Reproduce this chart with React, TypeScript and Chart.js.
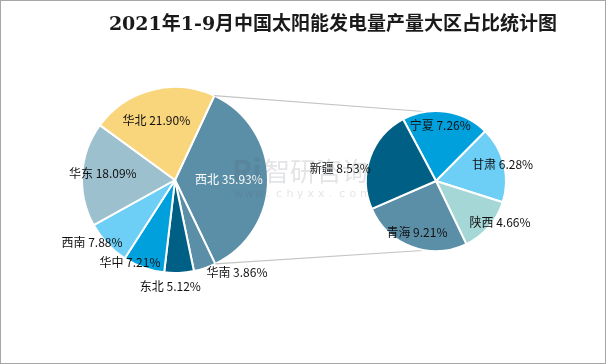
import React, { useEffect, useRef } from "react";
import { Chart, registerables } from "chart.js";

Chart.register(...registerables);

const titleText = "2021年1-9月中国太阳能发电量产量大区占比统计图";

const regionNames = ["西北", "华南", "东北", "华中", "西南", "华东", "华北"];
const regionValues = [35.93, 3.86, 5.12, 7.21, 7.88, 18.09, 21.9];
const regionColors = ["#5b8fa8", "#5b8fa8", "#005f85", "#00a0dc", "#6dcff6", "#9dc0cf", "#f9d57c"];
const regionLabelColors = ["#ffffff", "#111111", "#111111", "#111111", "#111111", "#111111", "#111111"];
// label placement: [radius factor, angle shift in degrees]
const regionLabelPlace = [[0.58, 0], [1.2, -15], [1.15, 5], [1.01, 9], [1.12, 6], [0.78, 2], [0.67, -3]];

const provinceNames = ["宁夏", "甘肃", "陕西", "青海", "新疆"];
const provinceValues = [7.26, 6.28, 4.66, 9.21, 8.53];
const provinceColors = ["#00a0dc", "#6dcff6", "#a5d7d6", "#5b8fa8", "#005f85"];
const provinceLabelPlace = [[0.8, -4], [0.98, 0], [1.09, -8], [0.78, 0], [1.38, -12]];

const W = 606;
const H = 364;

function drawLabels(chart: any, names: string[], values: number[], colors: string[], place: number[][]) {
  const ctx = chart.ctx;
  const meta = chart.getDatasetMeta(0);
  ctx.save();
  ctx.font = '12px "Noto Sans CJK SC", "Noto Sans", sans-serif';
  ctx.textAlign = "center";
  ctx.textBaseline = "middle";
  meta.data.forEach((arc: any, i: number) => {
    const p = arc.getProps(["x", "y", "startAngle", "endAngle", "outerRadius"], true);
    const mid = (p.startAngle + p.endAngle) / 2 + (place[i][1] * Math.PI) / 180;
    const r = p.outerRadius * place[i][0];
    const x = p.x + Math.cos(mid) * r;
    const y = p.y + Math.sin(mid) * r;
    ctx.fillStyle = colors[i];
    ctx.fillText(`${names[i]} ${values[i].toFixed(2)}%`, x, y);
  });
  ctx.restore();
}

export default function App() {
  const leftRef = useRef<HTMLCanvasElement>(null);
  const rightRef = useRef<HTMLCanvasElement>(null);

  useEffect(() => {
    const left = new Chart(leftRef.current as HTMLCanvasElement, {
      type: "pie",
      data: {
        labels: regionNames,
        datasets: [
          {
            data: regionValues,
            backgroundColor: regionColors,
            borderColor: "#ffffff",
            borderWidth: 2,
          },
        ],
      },
      options: {
        animation: false,
        responsive: false,
        devicePixelRatio: 1,
        rotation: 25,
        layout: { padding: { left: 81, right: 337, top: 86, bottom: 90 } },
        plugins: { legend: { display: false }, tooltip: { enabled: false } },
      },
      plugins: [
        {
          id: "bg",
          beforeDraw(chart: any) {
            const ctx = chart.ctx;
            ctx.save();
            ctx.fillStyle = "#ffffff";
            ctx.fillRect(0, 0, W, H);
            ctx.restore();
          },
          afterDraw(chart: any) {
            drawLabels(chart, regionNames, regionValues, regionLabelColors, regionLabelPlace);
          },
        },
      ],
    });

    const right = new Chart(rightRef.current as HTMLCanvasElement, {
      type: "pie",
      data: {
        labels: provinceNames,
        datasets: [
          {
            data: provinceValues,
            backgroundColor: provinceColors,
            borderColor: "#ffffff",
            borderWidth: 2,
          },
        ],
      },
      options: {
        animation: false,
        responsive: false,
        devicePixelRatio: 1,
        rotation: -28,
        layout: { padding: { left: 365, right: 99, top: 110, bottom: 112 } },
        plugins: { legend: { display: false }, tooltip: { enabled: false } },
      },
      plugins: [
        {
          id: "overlay",
          beforeDraw(chart: any) {
            const ctx = chart.ctx;
            // connector lines
            const lm = left.getDatasetMeta(0);
            const la = lm.data[0].getProps(["x", "y", "startAngle", "endAngle", "outerRadius"], true) as any;
            const rm = chart.getDatasetMeta(0);
            const ra = rm.data[0].getProps(["x", "y", "outerRadius"], true) as any;
            ctx.save();
            ctx.strokeStyle = "#c4c4c4";
            ctx.lineWidth = 1.2;
            ctx.beginPath();
            ctx.moveTo(la.x + Math.cos(la.startAngle) * la.outerRadius, la.y + Math.sin(la.startAngle) * la.outerRadius);
            ctx.lineTo(ra.x - 6, ra.y - ra.outerRadius + 1);
            ctx.moveTo(la.x + Math.cos(la.endAngle) * la.outerRadius, la.y + Math.sin(la.endAngle) * la.outerRadius);
            ctx.lineTo(ra.x - 6, ra.y + ra.outerRadius - 1);
            ctx.stroke();
            ctx.restore();
          },
          afterDraw(chart: any) {
            const ctx = chart.ctx;
            drawLabels(chart, provinceNames, provinceValues, provinceColors.map(() => "#111111"), provinceLabelPlace);
            ctx.save();
            // watermark
            ctx.fillStyle = "rgba(80,90,100,0.16)";
            ctx.font = 'bold 30px "Noto Sans CJK SC", sans-serif';
            ctx.textAlign = "left";
            ctx.textBaseline = "middle";
            ctx.fillText("Ri", 232, 171);
            ctx.font = '26px "Noto Sans CJK SC", sans-serif';
            ctx.fillText("智研咨询", 264, 171);
            ctx.font = '11px "DejaVu Sans", sans-serif';
            const wm = "www.chyxx.com";
            let x = 234;
            for (const ch of wm) {
              ctx.fillText(ch, x, 194);
              x += 10.5;
            }
            // title
            ctx.fillStyle = "#1a1a1a";
            ctx.font = 'bold 19px "DejaVu Serif", "Noto Sans CJK SC", serif';
            ctx.textAlign = "center";
            ctx.fillText(titleText, 333, 25);
            // frame
            ctx.strokeStyle = "#a6a6a6";
            ctx.lineWidth = 1;
            ctx.strokeRect(0.5, 0.5, W - 1, H - 1);
            ctx.restore();
          },
        },
      ],
    });

    return () => {
      right.destroy();
      left.destroy();
    };
  }, []);

  return (
    <div style={{ position: "fixed", left: 0, top: 0, width: W, height: H }}>
      <canvas ref={leftRef} width={W} height={H} style={{ position: "absolute", left: 0, top: 0, width: W, height: H }} />
      <canvas ref={rightRef} width={W} height={H} style={{ position: "absolute", left: 0, top: 0, width: W, height: H, pointerEvents: "none" }} />
    </div>
  );
}
